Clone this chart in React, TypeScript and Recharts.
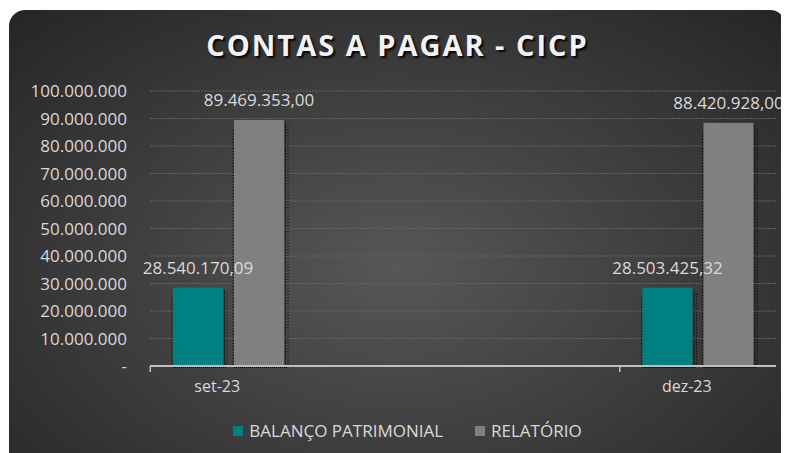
import { Bar, BarChart, CartesianGrid, LabelList, XAxis, YAxis } from "recharts";

const months = ["set-23", "out-23", "nov-23", "dez-23"];
const shownMonths = ["set-23", "dez-23"];
const balanco = [28540170.09, null, null, 28503425.32];
const relatorio = [89469353.0, null, null, 88420928.0];
const yTicks = [0, 10000000, 20000000, 30000000, 40000000, 50000000, 60000000, 70000000, 80000000, 90000000, 100000000];
const seriesNames = ["BALANÇO PATRIMONIAL", "RELATÓRIO"];
const seriesColors = ["#008080", "#808080"];
const title = "CONTAS A PAGAR - CICP";

const data = months.map((m, i) => ({ month: m, balanco: balanco[i], relatorio: relatorio[i] }));

const FONT = "'Open Sans', sans-serif";
const TEXT = "#d9d9d9";

function fmt(n: number, decimals: number) {
  const [i, d] = n.toFixed(decimals).split(".");
  const int = i.replace(/\B(?=(\d{3})+(?!\d))/g, ".");
  return d ? `${int},${d}` : int;
}

const ShadowBar = (props: any) => {
  const { x, y, width, height, fill } = props;
  if (!height || height <= 0) return null;
  return (
    <g>
      <line x1={x - 1} y1={y + 10} x2={x - 1} y2={y + height} stroke="#000" strokeDasharray="1 2" />
      <line x1={x + width + 1.5} y1={y + 3} x2={x + width + 1.5} y2={y + height} stroke="#000" strokeDasharray="1 1" />
      <line x1={x + width + 4} y1={y + 6} x2={x + width + 4} y2={y + height} stroke="#000" strokeDasharray="1 2" />
      <line x1={x} y1={y + height + 1.5} x2={x + width + 4} y2={y + height + 1.5} stroke="#000" strokeDasharray="1 1" />
      <rect x={x} y={y} width={width} height={height} fill={fill} />
    </g>
  );
};

const MonthTick = (props: any) => {
  const { x, y, payload } = props;
  if (!shownMonths.includes(payload.value)) return null;
  return (
    <g>
      <line x1={x - 78} y1={y} x2={x - 78} y2={y + 6} stroke="#bfbfbf" strokeWidth={1.5} />
      <text x={x - 11} y={y + 26} textAnchor="middle" fill={TEXT} fontSize={16} fontFamily={FONT}>
        {payload.value}
      </text>
    </g>
  );
};

export default function App() {
  return (
    <div
      style={{
        position: "relative",
        marginLeft: 1,
        marginTop: 2,
        width: 777,
        height: 445,
        borderRadius: "16px 16px 0 0",
        overflow: "hidden",
        background: "radial-gradient(ellipse 70% 80% at 50% 58%, #575757 0%, #3c3c3c 55%, #262626 100%)",
      }}
    >
      <div
        style={{
          position: "absolute",
          top: 15,
          left: 0,
          width: 777,
          textAlign: "center",
          fontFamily: FONT,
          fontWeight: 700,
          fontSize: 29,
          letterSpacing: 2,
          color: "#f2f2f2",
          textShadow: "2px 2px 2px rgba(0,0,0,0.9)",
        }}
      >
        {title}
      </div>
      <BarChart
        width={777}
        height={443}
        data={data}
        margin={{ top: 81, right: 10, left: 0, bottom: 0 }}
        barSize={50}
        barGap={11}
      >
        <CartesianGrid vertical={false} stroke="#626262" strokeDasharray="2 1" />
        <YAxis
          width={141}
          domain={[0, 100000000]}
          ticks={yTicks}
          axisLine={false}
          tickLine={false}
          tickSize={0}
          tickMargin={23}
          tick={{ fill: TEXT, fontSize: 17, fontFamily: FONT }}
          tickFormatter={(v: number) => (v === 0 ? "-" : fmt(v, 0))}
        />
        <XAxis
          dataKey="month"
          height={87}
          interval={0}
          axisLine={{ stroke: "#bfbfbf", strokeWidth: 2 }}
          tickLine={false}
          tickSize={0}
          tickMargin={0}
          tick={<MonthTick />}
        />
        <Bar dataKey="balanco" fill={seriesColors[0]} shape={<ShadowBar />} isAnimationActive={false}>
          <LabelList
            dataKey="balanco"
            position="top"
            offset={14}
            fill={TEXT}
            fontSize={17}
            fontFamily={FONT}
            formatter={(v: any) => (v == null ? "" : fmt(v, 2))}
          />
        </Bar>
        <Bar dataKey="relatorio" fill={seriesColors[1]} shape={<ShadowBar />} isAnimationActive={false}>
          <LabelList
            dataKey="relatorio"
            position="top"
            offset={14}
            fill={TEXT}
            fontSize={17}
            fontFamily={FONT}
            formatter={(v: any) => (v == null ? "" : fmt(v, 2))}
          />
        </Bar>
      </BarChart>
      <div
        style={{
          position: "absolute",
          top: 409,
          left: 10,
          width: 777,
          display: "flex",
          justifyContent: "center",
          gap: 32,
          fontFamily: FONT,
          fontSize: 17,
          color: TEXT,
        }}
      >
        {seriesNames.map((name, i) => (
          <div key={name} style={{ display: "flex", alignItems: "center", gap: 6 }}>
            <span style={{ width: 10, height: 10, background: seriesColors[i], display: "inline-block" }} />
            <span>{name}</span>
          </div>
        ))}
      </div>
    </div>
  );
}
